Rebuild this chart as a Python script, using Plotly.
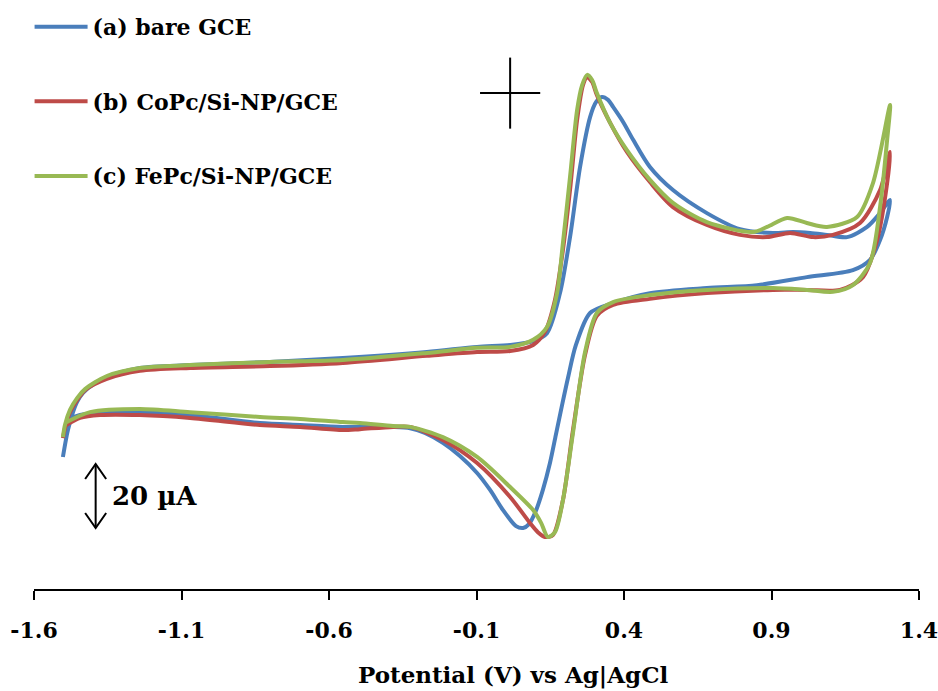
import plotly.graph_objects as go

# ---------------- data (potential in V vs Ag|AgCl, current in µA) ----------------
names = ["(a) bare GCE", "(b) CoPc/Si-NP/GCE", "(c) FePc/Si-NP/GCE"]
colors = ["#4A7EBB", "#BE4B48", "#98B954"]

bare_E = [-1.502, -1.492, -1.485, -1.471, -1.454, -1.434, -1.393, -1.353, -1.241, -1.071,
          -0.800, -0.553, -0.268, -0.098, 0.014, 0.092, 0.139, 0.183, 0.217, 0.251,
          0.285, 0.305, 0.325, 0.346, 0.363, 0.397, 0.431, 0.488, 0.566, 0.681,
          0.793, 0.905, 0.973, 1.031, 1.088, 1.156, 1.224, 1.268, 1.302,
          1.292, 1.268, 1.234, 1.176, 1.020, 0.851, 0.681, 0.488, 0.363, 0.285,
          0.237, 0.210, 0.190, 0.169, 0.149, 0.125, 0.101, 0.078, 0.058, 0.034,
          -0.010, -0.054, -0.098, -0.156, -0.214, -0.275, -0.325, -0.383, -0.553, -0.698,
          -0.834, -1.071, -1.241, -1.376, -1.444, -1.488]
bare_I = [-17.8, -12.5, -9.4, -4.7, -0.6, 2.2, 5.3, 7.2, 10.0, 10.9,
          11.9, 13.1, 15.0, 16.6, 17.2, 18.4, 20.9, 33.4, 50.9, 72.8,
          88.4, 93.1, 94.7, 93.8, 91.6, 86.9, 81.3, 72.8, 65.6, 58.4,
          53.4, 52.2, 52.5, 52.2, 51.6, 50.9, 54.1, 58.4, 62.5,
          57.2, 50.0, 43.8, 40.6, 38.4, 35.9, 35.0, 33.4, 30.3, 27.2,
          17.2, 6.9, -1.6, -10.9, -19.7, -28.1, -34.7, -38.8, -40.0, -39.4,
          -34.4, -28.1, -22.8, -17.5, -13.4, -10.3, -8.8, -8.4, -8.4, -7.8,
          -7.2, -4.7, -3.8, -4.1, -4.7, -6.3]

copc_E = [-1.502, -1.495, -1.478, -1.454, -1.427, -1.353, -1.241, -1.071, -0.800, -0.553,
          -0.268, -0.098, 0.014, 0.092, 0.132, 0.166, 0.193, 0.217, 0.241, 0.261,
          0.275, 0.292, 0.308, 0.353, 0.410, 0.488, 0.566, 0.681, 0.793, 0.885,
          0.963, 1.041, 1.108, 1.200, 1.268, 1.302,
          1.292, 1.258, 1.210, 1.132, 1.020, 0.905, 0.681, 0.488, 0.363, 0.308,
          0.268, 0.227, 0.193, 0.159, 0.132, 0.108, 0.081, 0.014, -0.098, -0.214,
          -0.325, -0.383, -0.495, -0.553, -0.698, -0.834, -1.071, -1.241, -1.376, -1.444,
          -1.495]
copc_I = [-11.9, -8.8, -3.8, 0.0, 3.1, 6.6, 9.1, 10.0, 10.6, 11.6,
          13.8, 15.0, 15.3, 17.2, 21.3, 31.3, 46.9, 65.6, 87.5, 98.4,
          100.9, 99.4, 95.3, 86.6, 77.5, 68.1, 60.3, 54.7, 51.6, 50.9,
          52.2, 50.9, 51.6, 55.3, 65.6, 77.5,
          67.8, 50.0, 38.4, 34.4, 34.4, 34.4, 33.4, 31.6, 29.7, 26.3,
          14.1, -9.4, -31.3, -42.2, -42.8, -41.3, -38.4, -30.3, -19.7, -12.5,
          -8.4, -8.4, -9.1, -9.4, -8.4, -7.8, -5.6, -4.7, -4.7, -5.6,
          -8.1]

fepc_E = [-1.502, -1.495, -1.478, -1.454, -1.427, -1.353, -1.241, -1.071, -0.800, -0.553,
          -0.268, -0.098, 0.014, 0.092, 0.139, 0.173, 0.193, 0.217, 0.241, 0.258,
          0.275, 0.292, 0.308, 0.353, 0.410, 0.488, 0.566, 0.681, 0.837, 0.885,
          0.953, 1.020, 1.088, 1.190, 1.244, 1.302,
          1.292, 1.268, 1.234, 1.176, 1.108, 1.020, 0.905, 0.681, 0.488, 0.363,
          0.308, 0.268, 0.227, 0.193, 0.166, 0.142, 0.119, 0.092, 0.014, -0.098,
          -0.214, -0.325, -0.383, -0.495, -0.553, -0.698, -0.834, -1.071, -1.241, -1.410,
          -1.495]
fepc_I = [-11.6, -7.8, -3.1, 0.6, 3.4, 7.5, 10.0, 10.9, 11.9, 12.5,
          14.7, 16.3, 16.6, 18.8, 22.8, 33.4, 49.1, 69.7, 90.6, 98.4,
          101.6, 100.0, 95.9, 86.6, 78.1, 68.8, 61.6, 55.6, 52.5, 54.1,
          56.9, 55.3, 54.1, 57.2, 67.8, 92.2,
          81.3, 60.3, 42.8, 35.9, 33.8, 34.4, 35.0, 34.4, 32.8, 30.6,
          27.2, 15.0, -10.3, -31.3, -41.3, -42.8, -38.4, -34.4, -27.2, -17.8,
          -11.6, -8.4, -8.1, -7.2, -6.9, -5.9, -5.3, -3.8, -2.8, -3.8,
          -7.2]

series_E = [bare_E, copc_E, fepc_E]
series_I = [bare_I, copc_I, fepc_I]

tick_vals = [-1.6, -1.1, -0.6, -0.1, 0.4, 0.9, 1.4]
tick_text = ["-1.6", "-1.1", "-0.6", "-0.1", "0.4", "0.9", "1.4"]

x_title = "Potential (V) vs Ag|AgCl"
scale_label = "20 µA"
scale_E = -1.391            # position of the 20 µA scale bar
scale_I = [-40.0, -20.0]
scale_text_E = -1.342
marker_E, marker_I = 0.014, 95.9   # the "+" marker
marker_dE, marker_dI = 0.102, 11.1

FONT = "DejaVu Serif"

fig = go.Figure()
for i in range(3):
    fig.add_trace(go.Scatter(
        x=series_E[i], y=series_I[i], mode="lines", name=names[i],
        line=dict(color=colors[i], width=4, shape="spline", smoothing=0.8),
        legendgroup=f"g{i}", hoverinfo="skip"))

shapes = []
# scale bar
shapes.append(dict(type="line", xref="x", yref="y", x0=scale_E, x1=scale_E,
                   y0=scale_I[0], y1=scale_I[1], line=dict(color="black", width=2)))
dE, dI = 0.0356, 4.7
shapes.append(dict(type="path", xref="x", yref="y",
                   path=f"M{scale_E-dE},{scale_I[1]-dI} L{scale_E},{scale_I[1]} L{scale_E+dE},{scale_I[1]-dI}",
                   line=dict(color="black", width=2)))
shapes.append(dict(type="path", xref="x", yref="y",
                   path=f"M{scale_E-dE},{scale_I[0]+dI} L{scale_E},{scale_I[0]} L{scale_E+dE},{scale_I[0]+dI}",
                   line=dict(color="black", width=2)))
# "+" marker
shapes.append(dict(type="line", xref="x", yref="y", x0=marker_E - marker_dE, x1=marker_E + marker_dE,
                   y0=marker_I, y1=marker_I, line=dict(color="black", width=2)))
shapes.append(dict(type="line", xref="x", yref="y", x0=marker_E, x1=marker_E,
                   y0=marker_I - marker_dI, y1=marker_I + marker_dI, line=dict(color="black", width=2)))

annotations = [
    dict(x=scale_text_E, y=sum(scale_I) / 2, xref="x", yref="y", text=scale_label,
         showarrow=False, xanchor="left", yanchor="middle",
         font=dict(family=FONT, size=26, color="black", weight="bold")),
    dict(x=0.541, y=-0.146, xref="paper", yref="paper", text=x_title, showarrow=False,
         xanchor="center", yanchor="middle",
         font=dict(family=FONT, size=23, color="black", weight="bold")),
]

fig.update_layout(
    width=938, height=691,
    margin=dict(l=34, r=19, t=0, b=102),
    paper_bgcolor="white", plot_bgcolor="white",
    showlegend=True,
    legend=dict(x=-0.005, y=0.99, xanchor="left", yanchor="top",
                traceorder="grouped", tracegroupgap=43, itemwidth=53,
                font=dict(family=FONT, size=22, color="black", weight="bold"),
                bgcolor="rgba(0,0,0,0)"),
    xaxis=dict(range=[-1.6, 1.4], tickmode="array", tickvals=tick_vals, ticktext=tick_text,
               showgrid=False, zeroline=False, showline=True, linecolor="black", linewidth=1.5,
               ticks="outside", ticklen=9, tickwidth=1.5, tickcolor="black",
               ticklabelstandoff=12, ticklabeloverflow="allow",
               tickfont=dict(family=FONT, size=22, color="black", weight="bold")),
    yaxis=dict(range=[-59.06, 125.0], visible=False, showgrid=False, zeroline=False),
    shapes=shapes, annotations=annotations,
    hovermode=False,
)

fig.write_html("out.html")
